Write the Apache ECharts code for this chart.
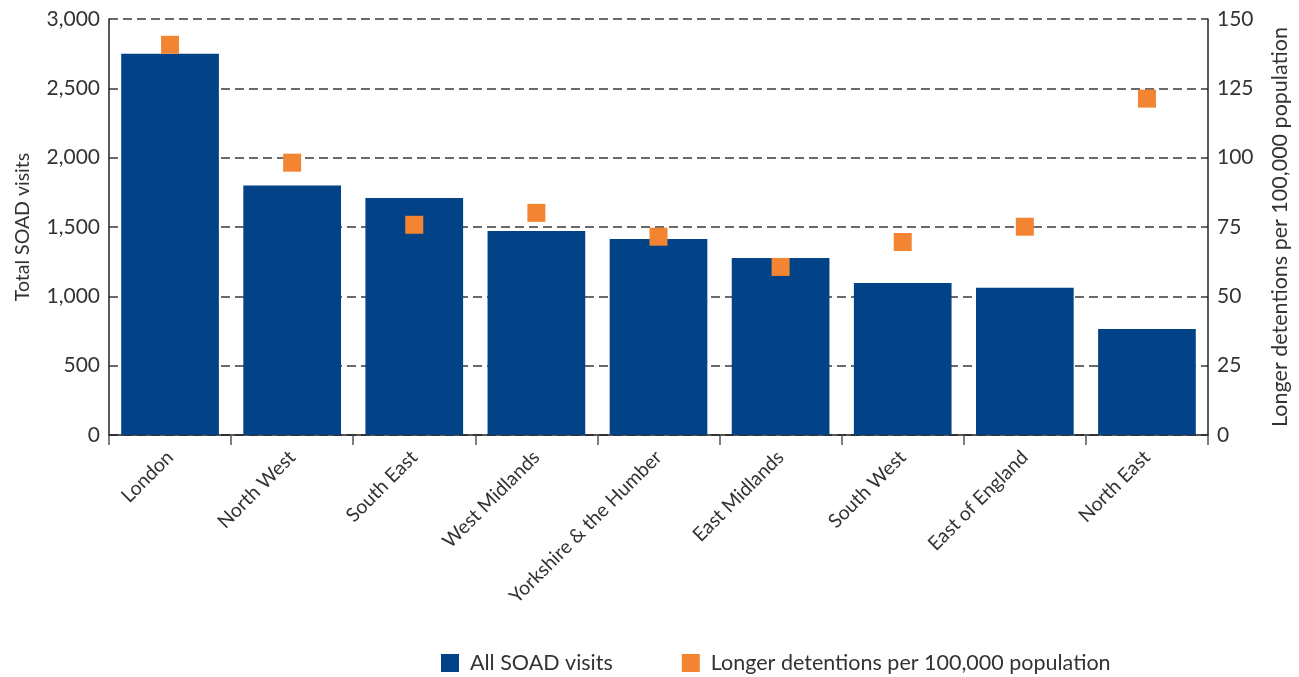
<!DOCTYPE html>
<html><head><meta charset="utf-8">
<script src="https://cdn.jsdelivr.net/npm/echarts@6/dist/echarts.min.js"></script>
<style>html,body{margin:0;padding:0;background:#fff}#c{width:1299px;height:677px}</style>
</head><body><div id="c"></div>
<script>
const categories = ["London","North West","South East","West Midlands","Yorkshire & the Humber","East Midlands","South West","East of England","North East"];
const soadVisits = [2750,1800,1710,1472,1414,1277,1097,1061,765];
const longerDetentions = [140.7,98.2,75.8,80.1,71.5,60.6,69.6,75.1,121.3];
const leftTicks = [0,500,1000,1500,2000,2500,3000];
const rightTicks = [0,25,50,75,100,125,150];

const font = "Lato, 'Open Sans', sans-serif";
const chart = echarts.init(document.getElementById('c'), null, {renderer:'canvas'});
const gridLine = {show:true, lineStyle:{color:'#3a3a3a', type:[9,5], width:1.5}};
chart.setOption({
  animation:false,
  textStyle:{fontFamily:font},
  grid:{left:109, right:90, top:19, bottom:242, containLabel:false},
  legend:{
    left:441, top:652, padding:0, itemWidth:18, itemHeight:18, itemGap:69,
    textStyle:{fontSize:21.5, color:'#333', fontFamily:font, padding:[0,0,0,6]},
    data:[{name:'All SOAD visits', icon:'rect'},{name:'Longer detentions per 100,000 population', icon:'rect'}]
  },
  xAxis:{
    type:'category', data:categories,
    axisLine:{lineStyle:{color:'#222', width:1.5}},
    axisTick:{show:true, length:10, lineStyle:{color:'#555', width:1.5}},
    axisLabel:{rotate:45, fontSize:19.5, color:'#333', margin:19, fontFamily:font, interval:0}
  },
  yAxis:[{
    type:'value', min:0, max:3000, interval:500,
    name:'Total SOAD visits', nameLocation:'middle', nameGap:76, nameRotate:90,
    nameTextStyle:{fontSize:19.5, color:'#333', fontFamily:font},
    axisLine:{show:true, lineStyle:{color:'#222', width:1.5}},
    axisTick:{show:false},
    axisLabel:{fontSize:21, color:'#333', margin:9, fontFamily:font,
      formatter:v=>leftTicks.includes(v)?v.toLocaleString('en-US'):''},
    splitLine:gridLine
  },{
    type:'value', min:0, max:150, interval:25, position:'right',
    name:'Longer detentions per 100,000 population', nameLocation:'middle', nameGap:61, nameRotate:90,
    nameTextStyle:{fontSize:21.5, color:'#333', fontFamily:font},
    axisLine:{show:true, lineStyle:{color:'#222', width:1.5}},
    axisTick:{show:false},
    axisLabel:{fontSize:21, color:'#333', margin:9, fontFamily:font,
      formatter:v=>rightTicks.includes(v)?String(v):''},
    splitLine:{show:false}
  }],
  series:[{
    name:'All SOAD visits', type:'bar', yAxisIndex:0, data:soadVisits,
    barWidth:'80%', itemStyle:{color:'#024287'}
  },{
    name:'Longer detentions per 100,000 population', type:'scatter', yAxisIndex:1, data:longerDetentions,
    symbol:'rect', symbolSize:18, itemStyle:{color:'#F28432', opacity:1}, z:5
  }]
});
</script></body></html>
